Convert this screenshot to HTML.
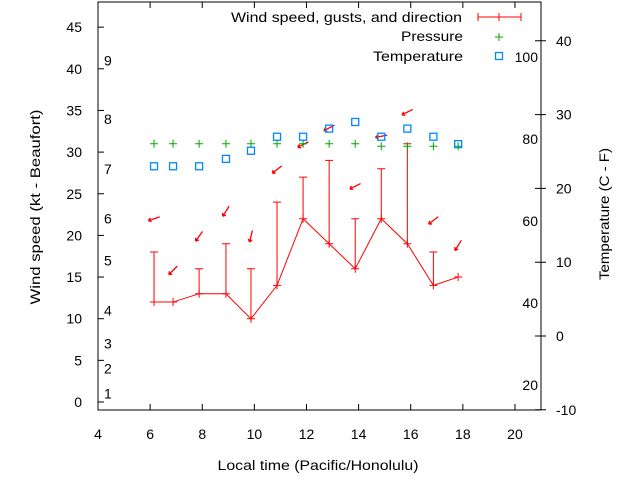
<!DOCTYPE html>
<html><head><meta charset="utf-8"><style>
body{margin:0;background:#fff}
svg text{font-family:"Liberation Sans",sans-serif;font-size:14px;fill:#000}
</style></head><body>
<svg id="c" width="640" height="480" xmlns="http://www.w3.org/2000/svg"></svg>
<script>
const times=[6.15,6.88,7.88,8.91,9.87,10.87,11.87,12.87,13.87,14.87,15.87,16.87,17.82];
const windSpeed=[12,12,13,13,10,14,22,19,16,22,19,14,15];
const windGust=[18,null,16,19,16,24,27,29,22,28,31,18,null];
const arrowPos=[22,15.8,19.9,22.9,19.9,27.9,30.9,32.9,25.9,31.9,34.8,21.8,18.8];
const windDir=[72,45,35,32,14,52,63,63,63,79,63,52,32];
const pressure=[31,31,31,31,31,31,31,31,31,30.7,30.7,30.7,30.7];
const tempC=[23,23,23,24,25.1,27,27,28.1,29,27,28.1,27,26];
const xTicks=[4,6,8,10,12,14,16,18,20];
const yTicks=[0,5,10,15,20,25,30,35,40,45];
const y2Ticks=[-10,0,10,20,30,40];
const fLabels=[20,40,60,80,100];
const beaufort=[[1,1],[2,4],[3,7],[4,11],[5,17],[6,22],[7,28],[8,34],[9,41]];
const L=98,R=541,T=2,B=410;
const X=v=>98+(v-4)*26.06;
const Y=v=>402-v*8.33;
const Y2=v=>336-v*7.38;
const svg=document.getElementById('c');
function el(t,a,txt){const e=document.createElementNS('http://www.w3.org/2000/svg',t);for(const k in a)e.setAttribute(k,a[k]);if(txt!==undefined)e.textContent=txt;svg.appendChild(e);return e;}
let e;
e=el('rect',{x:L,y:T,width:R-L,height:B-T,fill:'none',stroke:'#000'});


xTicks.forEach(v=>{const x=X(v);
e=el('path',{d:`M${x} ${B}v-6M${x} ${T}v6`,stroke:'#000'});


e=el('text',{x:x,y:439,'text-anchor':'middle'},v);

});
yTicks.forEach(v=>{const y=Y(v);
e=el('path',{d:`M${L} ${y}h6`,stroke:'#000'});


e=el('text',{x:82,y:y+5,'text-anchor':'end'},v);

});
y2Ticks.forEach(v=>{const y=Y2(v);
e=el('path',{d:`M${R} ${y}h5M${R} ${y}h-6`,stroke:'#000'});


e=el('text',{x:556,y:y+5},v);

});
fLabels.forEach(f=>{const c=(f-32)*5/9;
e=el('text',{x:538,y:Y2(c)+5,'text-anchor':'end'},f);

});
beaufort.forEach(b=>{
e=el('text',{x:104,y:Y(b[1])+5},b[0]);

});
e=el('text',{x:40,y:207,'text-anchor':'middle',transform:'rotate(-90 40 207)',textLength:195,lengthAdjust:'spacingAndGlyphs'},'Wind speed (kt - Beaufort)');


e=el('text',{x:609,y:214,'text-anchor':'middle',transform:'rotate(-90 609 214)',textLength:132,lengthAdjust:'spacingAndGlyphs'},'Temperature (C - F)');


e=el('text',{x:318,y:470,'text-anchor':'middle',textLength:201,lengthAdjust:'spacingAndGlyphs'},'Local time (Pacific/Honolulu)');


times.forEach((t,i)=>{if(windGust[i]==null)return;const x=X(t),y1=Y(windSpeed[i]),y2=Y(windGust[i]);
e=el('path',{d:`M${x} ${y1}V${y2}M${x-4} ${y2}h8`,stroke:'#f00'});

});
e=el('polyline',{points:times.map((t,i)=>X(t)+','+Y(windSpeed[i])).join(' '),fill:'none',stroke:'#f00'});


times.forEach((t,i)=>{const x=X(t),y=Y(windSpeed[i]);
e=el('path',{d:`M${x-4} ${y}h8M${x} ${y-4}v8`,stroke:'#f00'});

});
times.forEach((t,i)=>{const x=X(t),y=Y(arrowPos[i]),a=windDir[i]*Math.PI/180,dx=-Math.sin(a)*6,dy=Math.cos(a)*6;
const hx=x+dx,hy=y+dy,bx=-dx/6*4,by=-dy/6*4;
e=el('path',{d:`M${x-dx} ${y-dy}L${hx} ${hy}M${hx} ${hy}l${bx*0.7-by*0.5} ${by*0.7+bx*0.5}M${hx} ${hy}l${bx*0.7+by*0.5} ${by*0.7-bx*0.5}`,stroke:'#f00','stroke-width':1.3});

});
times.forEach((t,i)=>{const x=X(t),y=Y(pressure[i]);
e=el('path',{d:`M${x-4} ${y}h8M${x} ${y-4}v8`,stroke:'#0a0'});

});
times.forEach((t,i)=>{const x=X(t),y=Y2(tempC[i]);
e=el('rect',{x:x-3.5,y:y-3.5,width:7,height:7,fill:'none',stroke:'#08f','stroke-width':1.3});

});
e=el('text',{x:231,y:22,textLength:231,lengthAdjust:'spacingAndGlyphs'},'Wind speed, gusts, and direction');


e=el('path',{d:'M478 17h43M478 13v8M521 13v8M499 13v8',stroke:'#f00'});


e=el('text',{x:401,y:41,textLength:62,lengthAdjust:'spacingAndGlyphs'},'Pressure');


e=el('path',{d:'M495 37h8M499 33v8',stroke:'#0a0'});


e=el('text',{x:373,y:61,textLength:90,lengthAdjust:'spacingAndGlyphs'},'Temperature');


e=el('rect',{x:495.5,y:52.5,width:7,height:7,fill:'none',stroke:'#08f','stroke-width':1.3});


</script>
</body></html>
